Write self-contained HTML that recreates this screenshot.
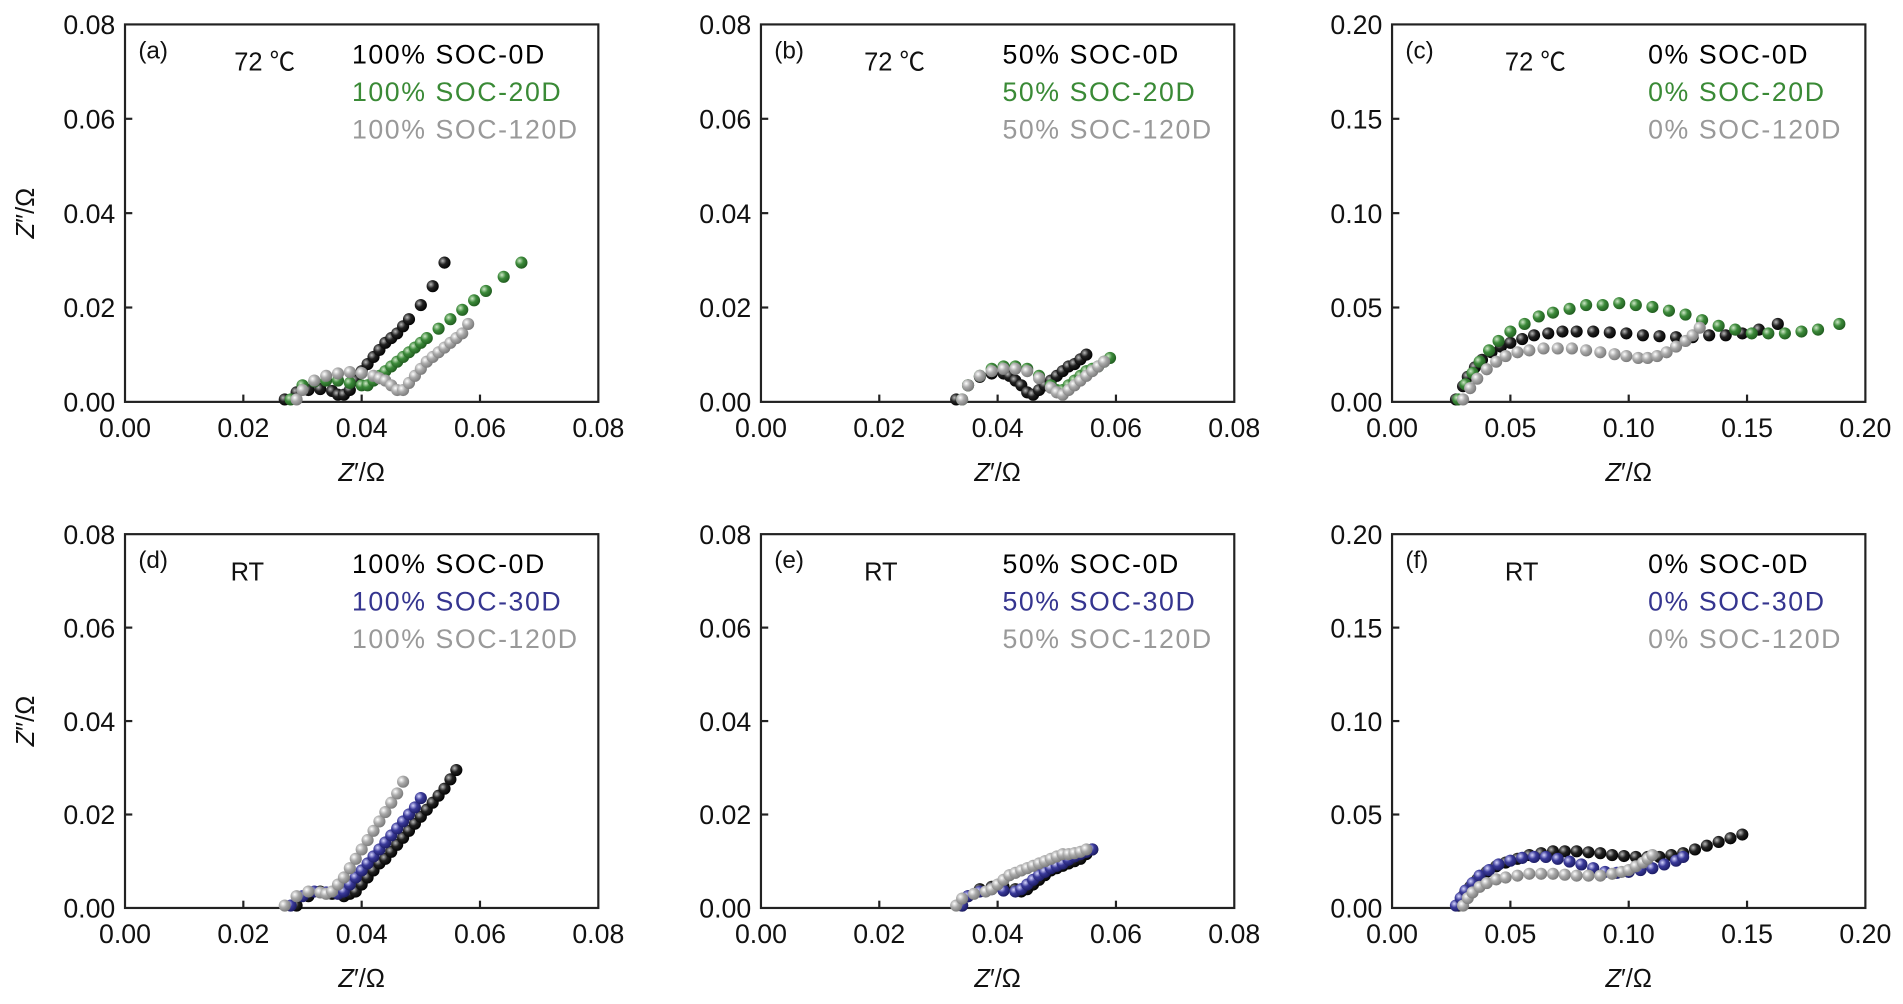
<!DOCTYPE html>
<html><head><meta charset="utf-8"><style>
html,body{margin:0;padding:0;background:#fff;}
svg{display:block;font-family:"Liberation Sans","Noto Sans CJK SC",sans-serif;}
</style></head><body>
<svg id="fig" width="1903" height="1004" viewBox="0 0 1568 827" xmlns="http://www.w3.org/2000/svg">
<defs>
<radialGradient id="gk" cx="0.35" cy="0.35" r="0.7"><stop offset="0" stop-color="#bbb"/><stop offset="0.45" stop-color="#222"/><stop offset="1" stop-color="#000"/></radialGradient>
<radialGradient id="gg" cx="0.35" cy="0.35" r="0.7"><stop offset="0" stop-color="#cfe8c8"/><stop offset="0.45" stop-color="#3c8a3a"/><stop offset="1" stop-color="#1f5a1e"/></radialGradient>
<radialGradient id="gy" cx="0.35" cy="0.35" r="0.7"><stop offset="0" stop-color="#fff"/><stop offset="0.45" stop-color="#aaa"/><stop offset="1" stop-color="#777"/></radialGradient>
<radialGradient id="gb" cx="0.35" cy="0.35" r="0.7"><stop offset="0" stop-color="#d8d8ff"/><stop offset="0.45" stop-color="#3a3a9a"/><stop offset="1" stop-color="#1a1a60"/></radialGradient>
</defs>
</svg>
<script>
// Data arrays: [Z', Z''] pairs
const a_0D=[[0.027,0],[0.029,0.0015],[0.031,0.002],[0.033,0.0022],[0.035,0.0018],[0.036,0.001],[0.037,0.001],[0.038,0.002],[0.039,0.004],[0.040,0.006],[0.041,0.0075],[0.042,0.009],[0.043,0.0105],[0.044,0.012],[0.045,0.013],[0.046,0.014],[0.047,0.0155],[0.048,0.017],[0.050,0.020],[0.052,0.024],[0.054,0.029]];
const a_20D=[[0.028,0],[0.030,0.003],[0.032,0.0038],[0.034,0.004],[0.036,0.004],[0.038,0.0035],[0.040,0.003],[0.041,0.003],[0.042,0.004],[0.043,0.005],[0.044,0.006],[0.045,0.007],[0.046,0.008],[0.047,0.009],[0.048,0.010],[0.049,0.011],[0.050,0.012],[0.051,0.013],[0.053,0.015],[0.055,0.017],[0.057,0.019],[0.059,0.021],[0.061,0.023],[0.064,0.026],[0.067,0.029]];
const a_120D=[[0.029,0],[0.030,0.002],[0.032,0.004],[0.034,0.005],[0.036,0.0055],[0.038,0.0058],[0.040,0.0056],[0.042,0.005],[0.043,0.0045],[0.044,0.004],[0.045,0.003],[0.046,0.002],[0.047,0.002],[0.048,0.0035],[0.049,0.005],[0.050,0.0065],[0.051,0.008],[0.052,0.009],[0.053,0.010],[0.054,0.011],[0.055,0.012],[0.056,0.013],[0.057,0.014],[0.058,0.016]];
const b_0D=[[0.033,0],[0.035,0.003],[0.037,0.0048],[0.039,0.0055],[0.041,0.0055],[0.042,0.005],[0.043,0.004],[0.044,0.003],[0.045,0.0015],[0.046,0.001],[0.047,0.002],[0.048,0.003],[0.049,0.004],[0.050,0.005],[0.051,0.006],[0.052,0.007],[0.053,0.0075],[0.054,0.0085],[0.055,0.0095]];
const b_20D=[[0.034,0],[0.035,0.003],[0.037,0.005],[0.039,0.0065],[0.041,0.007],[0.043,0.007],[0.045,0.0065],[0.047,0.005],[0.049,0.003],[0.050,0.002],[0.051,0.002],[0.052,0.003],[0.053,0.004],[0.054,0.005],[0.055,0.006],[0.056,0.0065],[0.057,0.007],[0.058,0.008],[0.059,0.0088]];
const b_120D=[[0.034,0],[0.035,0.003],[0.037,0.005],[0.039,0.006],[0.041,0.0065],[0.043,0.0065],[0.045,0.006],[0.047,0.0045],[0.049,0.0025],[0.050,0.0015],[0.051,0.001],[0.052,0.002],[0.053,0.003],[0.054,0.004],[0.055,0.005],[0.056,0.006],[0.057,0.007],[0.058,0.008]];
const c_0D=[[0.027,0],[0.030,0.007],[0.032,0.012],[0.035,0.017],[0.038,0.021],[0.042,0.025],[0.046,0.028],[0.050,0.030],[0.055,0.032],[0.060,0.034],[0.066,0.035],[0.072,0.036],[0.078,0.036],[0.085,0.036],[0.092,0.0355],[0.099,0.035],[0.106,0.034],[0.113,0.0335],[0.120,0.033],[0.127,0.033],[0.134,0.034],[0.141,0.034],[0.148,0.035],[0.155,0.037],[0.163,0.040]];
const c_20D=[[0.028,0],[0.031,0.008],[0.034,0.014],[0.037,0.020],[0.041,0.026],[0.045,0.031],[0.050,0.036],[0.056,0.040],[0.062,0.044],[0.068,0.046],[0.075,0.048],[0.082,0.050],[0.089,0.050],[0.096,0.051],[0.103,0.050],[0.110,0.049],[0.117,0.047],[0.124,0.045],[0.131,0.042],[0.138,0.039],[0.145,0.037],[0.152,0.035],[0.159,0.035],[0.166,0.035],[0.173,0.036],[0.180,0.037],[0.189,0.040]];
const c_120D=[[0.030,0],[0.033,0.006],[0.036,0.011],[0.040,0.016],[0.044,0.020],[0.048,0.023],[0.053,0.025],[0.058,0.026],[0.064,0.027],[0.070,0.027],[0.076,0.027],[0.082,0.026],[0.088,0.025],[0.094,0.024],[0.099,0.023],[0.104,0.022],[0.108,0.022],[0.112,0.023],[0.116,0.025],[0.120,0.028],[0.124,0.031],[0.127,0.034],[0.130,0.038]];
const d_0D=[[0.029,0],[0.031,0.002],[0.033,0.003],[0.035,0.0025],[0.037,0.002],[0.038,0.0025],[0.039,0.003],[0.040,0.0045],[0.041,0.006],[0.042,0.0075],[0.043,0.009],[0.044,0.010],[0.045,0.0115],[0.046,0.013],[0.047,0.0145],[0.048,0.016],[0.049,0.0175],[0.050,0.019],[0.051,0.0205],[0.052,0.022],[0.053,0.0235],[0.054,0.025],[0.055,0.027],[0.056,0.029]];
const d_30D=[[0.028,0],[0.030,0.002],[0.032,0.003],[0.034,0.0028],[0.036,0.0025],[0.037,0.003],[0.038,0.0045],[0.039,0.006],[0.040,0.0075],[0.041,0.009],[0.042,0.0105],[0.043,0.012],[0.044,0.0135],[0.045,0.015],[0.046,0.0165],[0.047,0.018],[0.048,0.0195],[0.049,0.021],[0.050,0.023]];
const d_120D=[[0.027,0],[0.029,0.002],[0.031,0.003],[0.033,0.0028],[0.034,0.0025],[0.035,0.003],[0.036,0.0045],[0.037,0.006],[0.038,0.008],[0.039,0.010],[0.040,0.012],[0.041,0.014],[0.042,0.016],[0.043,0.018],[0.044,0.020],[0.045,0.022],[0.046,0.024],[0.047,0.0265]];
const e_0D=[[0.034,0],[0.035,0.002],[0.037,0.0035],[0.039,0.004],[0.041,0.004],[0.043,0.0035],[0.044,0.003],[0.045,0.0035],[0.046,0.0045],[0.047,0.0055],[0.048,0.0065],[0.049,0.0075],[0.050,0.008],[0.051,0.0085],[0.052,0.009],[0.053,0.0095],[0.054,0.010],[0.055,0.011],[0.056,0.012]];
const e_30D=[[0.034,0],[0.035,0.002],[0.037,0.003],[0.039,0.0035],[0.041,0.0032],[0.043,0.003],[0.044,0.0035],[0.045,0.0045],[0.046,0.0055],[0.047,0.0065],[0.048,0.0072],[0.049,0.008],[0.050,0.0085],[0.051,0.009],[0.052,0.0098],[0.053,0.0105],[0.054,0.011],[0.055,0.0115],[0.056,0.012]];
const e_120D=[[0.033,0],[0.034,0.0015],[0.036,0.0025],[0.038,0.003],[0.039,0.0035],[0.040,0.0045],[0.041,0.0055],[0.042,0.0065],[0.043,0.007],[0.044,0.0075],[0.045,0.008],[0.046,0.0085],[0.047,0.009],[0.048,0.0095],[0.049,0.010],[0.050,0.0105],[0.051,0.011],[0.052,0.011],[0.053,0.0112],[0.054,0.0115],[0.055,0.012]];
const f_0D=[[0.028,0],[0.030,0.005],[0.033,0.010],[0.036,0.014],[0.040,0.018],[0.044,0.021],[0.048,0.023],[0.053,0.025],[0.058,0.027],[0.063,0.028],[0.068,0.029],[0.073,0.029],[0.078,0.029],[0.083,0.0285],[0.088,0.028],[0.093,0.027],[0.098,0.0265],[0.103,0.026],[0.108,0.026],[0.113,0.026],[0.118,0.027],[0.123,0.028],[0.128,0.030],[0.133,0.032],[0.138,0.034],[0.143,0.036],[0.148,0.038]];
const f_30D=[[0.027,0],[0.029,0.004],[0.031,0.008],[0.034,0.012],[0.037,0.016],[0.041,0.019],[0.045,0.022],[0.050,0.024],[0.055,0.0255],[0.060,0.026],[0.065,0.026],[0.070,0.025],[0.075,0.0235],[0.080,0.022],[0.085,0.020],[0.090,0.018],[0.095,0.0175],[0.100,0.018],[0.105,0.019],[0.110,0.020],[0.115,0.022],[0.120,0.024],[0.123,0.026]];
const f_120D=[[0.030,0],[0.032,0.004],[0.034,0.007],[0.037,0.010],[0.040,0.012],[0.044,0.014],[0.048,0.015],[0.053,0.016],[0.058,0.017],[0.063,0.017],[0.068,0.017],[0.073,0.0165],[0.078,0.016],[0.083,0.016],[0.088,0.016],[0.093,0.017],[0.097,0.018],[0.100,0.019],[0.103,0.021],[0.106,0.023],[0.108,0.025],[0.110,0.027]];
const ticks08=["0.00","0.02","0.04","0.06","0.08"];
const ticks20=["0.00","0.05","0.10","0.15","0.20"];

const NS="http://www.w3.org/2000/svg";
const svg=document.getElementById('fig');
function mk(tag,attrs,parent){const e=document.createElementNS(NS,tag);for(const k in attrs)e.setAttribute(k,attrs[k]);(parent||svg).appendChild(e);return e;}
const colors={k:'#000',g:'#3a8a36',y:'#999',b:'#35358f'};
const panels=[
 {id:'a',x0:103,y0:20,y1:331,max:0.08,tk:ticks08,cond:'72 ℃',condx:193,lx:290,leg:['100% SOC-0D','100% SOC-20D','100% SOC-120D'],cols:['k','g','y'],data:[a_0D,a_20D,a_120D],ylab:true},
 {id:'b',x0:627,y0:20,y1:331,max:0.08,tk:ticks08,cond:'72 ℃',condx:712,lx:826,leg:['50% SOC-0D','50% SOC-20D','50% SOC-120D'],cols:['k','g','y'],data:[b_0D,b_20D,b_120D]},
 {id:'c',x0:1147,y0:20,y1:331,max:0.2,tk:ticks20,cond:'72 ℃',condx:1240,lx:1358,leg:['0% SOC-0D','0% SOC-20D','0% SOC-120D'],cols:['k','g','y'],data:[c_0D,c_20D,c_120D]},
 {id:'d',x0:103,y0:440,y1:748,max:0.08,tk:ticks08,cond:'RT',condx:190,lx:290,leg:['100% SOC-0D','100% SOC-30D','100% SOC-120D'],cols:['k','b','y'],data:[d_0D,d_30D,d_120D],ylab:true},
 {id:'e',x0:627,y0:440,y1:748,max:0.08,tk:ticks08,cond:'RT',condx:712,lx:826,leg:['50% SOC-0D','50% SOC-30D','50% SOC-120D'],cols:['k','b','y'],data:[e_0D,e_30D,e_120D]},
 {id:'f',x0:1147,y0:440,y1:748,max:0.2,tk:ticks20,cond:'RT',condx:1240,lx:1358,leg:['0% SOC-0D','0% SOC-30D','0% SOC-120D'],cols:['k','b','y'],data:[f_0D,f_30D,f_120D]}
];
const W=390;
panels.forEach(p=>{
 const g=mk('g',{});
 
 
 const H=p.y1-p.y0;
 const sx=v=>p.x0+v/p.max*W, sy=v=>p.y1-v/p.max*H;
 const fr=mk('rect',{x:p.x0,y:p.y0,width:W,height:H,fill:'none',stroke:'#222','stroke-width':1.8},g);
 
 
 p.tk.forEach((t,i)=>{
  const v=i*p.max/4;
  if(i>0&&i<4){mk('line',{x1:sx(v),x2:sx(v),y1:p.y1,y2:p.y1-6,stroke:'#222','stroke-width':1.8},g);
   mk('line',{x1:p.x0,x2:p.x0+6,y1:sy(v),y2:sy(v),stroke:'#222','stroke-width':1.8},g);}
  const xt=mk('text',{x:sx(v),y:p.y1+29,'font-size':22,'text-anchor':'middle',fill:'#111'},g);xt.textContent=t;
  
  
  const yt=mk('text',{x:p.x0-8,y:sy(v)+8,'font-size':22,'text-anchor':'end',fill:'#111'},g);yt.textContent=t;
  
  
 });
 const xl=mk('text',{x:p.x0+W/2,y:p.y1+65,'font-size':21,'text-anchor':'middle',fill:'#111'},g);
 xl.innerHTML='<tspan font-style="italic">Z</tspan>′/Ω';
 
 
 if(p.ylab){const cy=(p.y0+p.y1)/2;const yl=mk('text',{x:28,y:cy,'font-size':21,'text-anchor':'middle',fill:'#111',transform:`rotate(-90 28 ${cy})`},g);
  yl.innerHTML='<tspan font-style="italic">Z</tspan>″/Ω';
  
  }
 const pl=mk('text',{x:p.x0+11,y:p.y0+28,'font-size':20,fill:'#111'},g);pl.textContent='('+p.id+')';
 
 
 const cd=mk('text',{x:p.condx,y:p.y0+38,'font-size':21,fill:'#111'},g);cd.textContent=p.cond;
 
 
 p.leg.forEach((l,i)=>{const t=mk('text',{x:p.lx,y:p.y0+32+i*31,'font-size':22,'letter-spacing':1.3,fill:colors[p.cols[i]]},g);t.textContent=l;
  
  });
 p.data.forEach((s,si)=>{
  const sg=mk('g',{},g);
  
  
  s.forEach(pt=>{const c=mk('circle',{cx:sx(pt[0]),cy:sy(pt[1])-2,r:5,fill:'url(#g'+p.cols[si]+')'},sg);
   
   });
 });
});
</script>
</body></html>
